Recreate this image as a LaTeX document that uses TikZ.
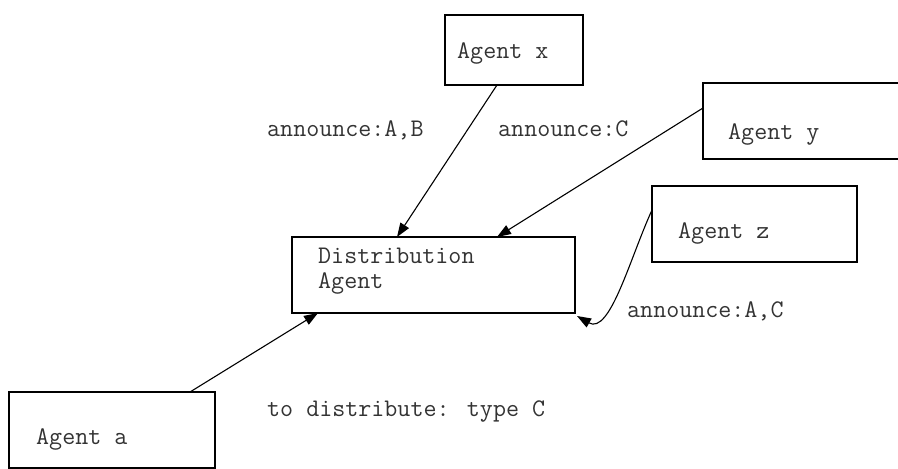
\documentclass[tikz,border=0pt]{standalone}
\usetikzlibrary{arrows.meta,calc}
\begin{document}
\begin{tikzpicture}[x=1pt,y=-1pt,
  box/.style={draw=black,line width=1.3pt,rectangle,inner sep=0pt,outer sep=0pt,anchor=north west},
  lbl/.style={anchor=base west,inner sep=0pt,font=\fontsize{25.3}{30}\selectfont\ttfamily,text=black!80},
  conn/.style={draw=black,line width=1.1pt,-{Triangle[length=14pt,width=10pt]}}]
\useasboundingbox (0,0) rectangle (898,469);
% boxes
\node[box,minimum width=138pt,minimum height=70pt] (bx) at (445,15) {};
\node[box,minimum width=200pt,minimum height=76pt] (by) at (703,83) {};
\node[box,minimum width=205pt,minimum height=76pt] (bz) at (652,186) {};
\node[box,minimum width=283pt,minimum height=76pt] (bd) at (292,237) {};
\node[box,minimum width=206pt,minimum height=76pt] (ba) at (9,392) {};
% texts
\node[lbl] (tx) at (457,58) {Agent x};
\node[lbl] (ty) at (728,139) {Agent y};
\node[lbl] (tz) at (678,238) {Agent z};
\node[lbl] (td1) at (318,263) {Distribution};
\node[lbl] (td2) at (318,288) {Agent};
\node[lbl] (ta) at (36,444) {Agent a};
\node[lbl] (l1) at (267,136) {announce:A,B};
\node[lbl] (l2) at (498,136) {announce:C};
\node[lbl] (l3) at (627,317) {announce:A,C};
\node[lbl] (l4) at (267,416) {to distribute: type C};
% connectors
\coordinate (xs) at ($(bx.south west)+(52,0)$);
\coordinate (dt1) at ($(bd.north west)+(105,0)$);
\coordinate (yw) at ($(by.north west)+(0,25)$);
\coordinate (dt2) at ($(bd.north west)+(205,0)$);
\coordinate (zw) at ($(bz.north west)+(0,24)$);
\coordinate (dse) at ($(bd.south east)+(2,3)$);
\coordinate (an) at ($(ba.north west)+(181,0)$);
\coordinate (dsw) at ($(bd.south west)+(26,0)$);
\draw[conn] (xs) -- (dt1);
\draw[conn] (yw) -- (dt2);
\draw[conn] (zw) .. controls (630,258) and (610,335) .. (dse);
\draw[conn] (an) -- (dsw);
\end{tikzpicture}
\end{document}
